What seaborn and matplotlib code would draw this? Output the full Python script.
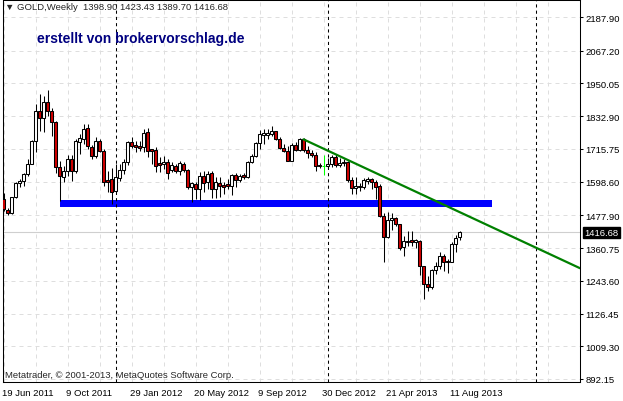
import numpy as np
import pandas as pd
import seaborn as sns
import matplotlib.pyplot as plt
from matplotlib import transforms

sns.set_style('white')
plt.rcParams['font.family'] = ['Liberation Sans', 'DejaVu Sans']

# weekly GOLD bars, first bar = week of 19 Jun 2011
dates = pd.date_range('2011-06-19', periods=115, freq='7D')
opens = [1536, 1498, 1485, 1542, 1593, 1602, 1626, 1662, 1745, 1850,
         1826, 1883, 1852, 1811, 1652, 1617, 1637, 1681, 1637, 1742,
         1751, 1789, 1723, 1690, 1745, 1710, 1605, 1608, 1566, 1613,
         1642, 1668, 1739, 1728, 1727, 1721, 1775, 1715, 1713, 1664,
         1660, 1668, 1641, 1654, 1638, 1662, 1640, 1581, 1590, 1572,
         1620, 1598, 1629, 1574, 1594, 1586, 1590, 1584, 1622, 1604,
         1622, 1614, 1670, 1690, 1736, 1767, 1767, 1769, 1779, 1752,
         1719, 1709, 1674, 1731, 1713, 1751, 1711, 1701, 1695, 1657,
         1655, 1656, 1662, 1688, 1659, 1665, 1668, 1604, 1576, 1584,
         1578, 1600, 1608, 1596, 1584, 1477, 1402, 1462, 1467, 1447,
         1363, 1383, 1390, 1382, 1387, 1297, 1232, 1220, 1284, 1297,
         1331, 1315, 1312, 1375, 1398.90]
highs = [1557, 1504, 1545, 1596, 1609, 1628, 1680, 1749, 1877, 1912,
         1906, 1927, 1862, 1815, 1674, 1656, 1694, 1694, 1753, 1769,
         1805, 1805, 1730, 1757, 1751, 1715, 1638, 1646, 1660, 1662,
         1680, 1745, 1757, 1745, 1745, 1787, 1790, 1716, 1722, 1687,
         1691, 1680, 1668, 1662, 1674, 1668, 1644, 1596, 1596, 1632,
         1638, 1638, 1638, 1614, 1614, 1596, 1608, 1626, 1628, 1626,
         1628, 1674, 1697, 1739, 1783, 1787, 1787, 1797, 1781, 1757,
         1733, 1727, 1736, 1739, 1754, 1755, 1727, 1712, 1703, 1665,
         1695, 1685, 1693, 1697, 1684, 1680, 1674, 1616, 1616, 1592,
         1612, 1614, 1611, 1604, 1590, 1488, 1489, 1486, 1471, 1448,
         1405, 1423, 1423, 1393, 1391, 1298, 1262, 1286, 1310, 1345,
         1339, 1320, 1381, 1409, 1423.43]
lows = [1492, 1480, 1484, 1540, 1578, 1584, 1620, 1660, 1704, 1781,
        1775, 1835, 1763, 1628, 1530, 1596, 1619, 1600, 1631, 1698,
        1733, 1715, 1680, 1682, 1704, 1582, 1560, 1520, 1561, 1602,
        1626, 1658, 1718, 1704, 1709, 1704, 1686, 1662, 1632, 1633,
        1645, 1608, 1632, 1630, 1622, 1634, 1572, 1525, 1537, 1534,
        1560, 1572, 1539, 1539, 1543, 1554, 1572, 1551, 1580, 1596,
        1608, 1610, 1667, 1686, 1715, 1733, 1751, 1763, 1749, 1715,
        1704, 1671, 1671, 1707, 1707, 1705, 1685, 1688, 1636, 1648,
        1623, 1649, 1652, 1651, 1650, 1656, 1598, 1554, 1556, 1565,
        1572, 1590, 1572, 1536, 1473, 1312, 1398, 1427, 1441, 1355,
        1334, 1369, 1369, 1361, 1264, 1177, 1208, 1214, 1268, 1286,
        1280, 1270, 1310, 1346, 1389.70]
closes = [1501, 1485, 1542, 1593, 1602, 1626, 1662, 1745, 1850, 1826,
          1883, 1852, 1811, 1652, 1620, 1636, 1680, 1638, 1745, 1754,
          1787, 1726, 1692, 1745, 1709, 1596, 1598, 1563, 1614, 1642,
          1668, 1739, 1727, 1721, 1720, 1774, 1709, 1710, 1656, 1658,
          1670, 1628, 1658, 1638, 1665, 1642, 1578, 1594, 1572, 1620,
          1594, 1625, 1574, 1598, 1582, 1580, 1582, 1622, 1604, 1620,
          1614, 1668, 1691, 1736, 1769, 1772, 1772, 1781, 1751, 1719,
          1709, 1674, 1731, 1713, 1751, 1711, 1701, 1694, 1656, 1654,
          1655, 1662, 1688, 1659, 1667, 1670, 1604, 1577, 1583, 1578,
          1604, 1608, 1596, 1580, 1477, 1402, 1461, 1467, 1447, 1360,
          1385, 1387, 1382, 1389, 1297, 1232, 1220, 1282, 1297, 1331,
          1311, 1310, 1375, 1396, 1416.68]

# price scale and date labels as printed on the chart
y_ticks = [2187.90, 2067.20, 1950.05, 1832.90, 1715.75, 1598.60,
           1477.90, 1360.75, 1243.60, 1126.45, 1009.30, 892.15]
x_label_bars = [0, 16, 32, 48, 64, 80, 96, 112]
x_labels = ['19 Jun 2011', '9 Oct 2011', '29 Jan 2012', '20 May 2012',
            '9 Sep 2012', '30 Dec 2012', '21 Apr 2013', '11 Aug 2013']

# drawn objects: support zone, trend line, year separators
zone_bars = [14, 122]
zone_prices = [1509, 1534]
trend_bars = [75, 124]
trend_prices = [1750, 1423]
separator_bars = [28, 81, 133]
bid = 1416.68

df = pd.DataFrame({'date': dates, 'open': opens, 'high': highs,
                   'low': lows, 'close': closes})
df['bar'] = np.arange(len(df))

W, H = 623, 402
fig = plt.figure(figsize=(W / 100, H / 100), dpi=100)
ax = fig.add_axes([3 / W, 19 / H, 577 / W, 382 / H])
ax.set_xlim(-0.125, 144.125)
ax.set_ylim(881.4, 2248.8)

# light dashed grid
for b in range(0, 145, 8):
    ax.axvline(b, color='#dedede', lw=0.72, ls=(0, (4, 4)), zorder=0)
for t in y_ticks:
    ax.axhline(t, color='#dedede', lw=0.72, ls=(0, (4, 4)), zorder=0)

# blue rectangle
ax.fill_between(zone_bars, zone_prices[0], zone_prices[1],
                color='#0000ff', lw=0, zorder=1)

# bid line
ax.axhline(bid, color='#cfcfcf', lw=0.8, zorder=1)

# period separators
for b in separator_bars:
    ax.axvline(b, color='black', lw=0.75, ls=(0, (3, 3)), zorder=2)

# candles
up = df['close'] > df['open']
down = df['close'] < df['open']
doji = df['close'] == df['open']
ax.vlines(df['bar'][~doji], df['low'][~doji], df['high'][~doji],
          color='black', lw=0.75, zorder=3)
ax.bar(df['bar'][up], (df['close'] - df['open'])[up],
       bottom=df['open'][up], width=0.55, color='white',
       edgecolor='black', linewidth=0.75, zorder=4)
ax.bar(df['bar'][down], (df['open'] - df['close'])[down],
       bottom=df['close'][down], width=0.55, color='#d00000',
       edgecolor='black', linewidth=0.75, zorder=4)
ax.vlines(df['bar'][doji], df['low'][doji], df['high'][doji],
          color='#00ff00', lw=0.75, zorder=4)
ax.hlines(df['close'][doji], df['bar'][doji] - 0.4, df['bar'][doji] + 0.4,
          color='#00ff00', lw=0.75, zorder=4)

# trend line, extended to the right edge like a ray
slope = (trend_prices[1] - trend_prices[0]) / (trend_bars[1] - trend_bars[0])
x_end = ax.get_xlim()[1]
trend = pd.DataFrame({'bar': [trend_bars[0], x_end],
                      'price': [trend_prices[0],
                                trend_prices[0] + slope * (x_end - trend_bars[0])]})
sns.lineplot(data=trend, x='bar', y='price', color='#008000', lw=1.6,
             ax=ax, zorder=5)

# axes, ticks
for s in ax.spines.values():
    s.set_color('black')
    s.set_linewidth(0.75)
ax.yaxis.tick_right()
ax.set_yticks(y_ticks)
ax.set_yticklabels([f'{t:.2f}' for t in y_ticks])
ax.set_xticks(x_label_bars)
ax.set_xticklabels(x_labels)
ax.tick_params(axis='both', direction='out', length=2.5, width=0.75,
               labelsize=6.8, colors='black', pad=1.5)
ax.set_xlabel('')
ax.set_ylabel('')
shift = transforms.ScaledTranslation(-2 / 100, 0, fig.dpi_scale_trans)
for lab in ax.get_xticklabels():
    lab.set_horizontalalignment('left')
    lab.set_transform(lab.get_transform() + shift)

# current price box on the scale
ax.text(1 + 4 / 577, bid, f'{bid:.2f}', color='white', fontsize=6.8,
        ha='left', va='center',
        transform=transforms.blended_transform_factory(ax.transAxes, ax.transData),
        bbox=dict(boxstyle='square,pad=0.15', facecolor='black',
                  edgecolor='black'), zorder=10, clip_on=False)

# texts
fig.text(5 / W, 1 - 8 / H,
         '\u25bc GOLD,Weekly  1398.90 1423.43 1389.70 1416.68',
         fontsize=6.8, va='center', ha='left')
fig.text(37 / W, 1 - 39 / H, 'erstellt von brokervorschlag.de',
         fontsize=10, fontweight='bold', color='#000080',
         va='center', ha='left')
fig.text(5 / W, 1 - 376 / H,
         'Metatrader, \u00a9 2001-2013, MetaQuotes Software Corp.',
         fontsize=6.8, va='center', ha='left')

fig.savefig('out.png', dpi=100, facecolor='white')
